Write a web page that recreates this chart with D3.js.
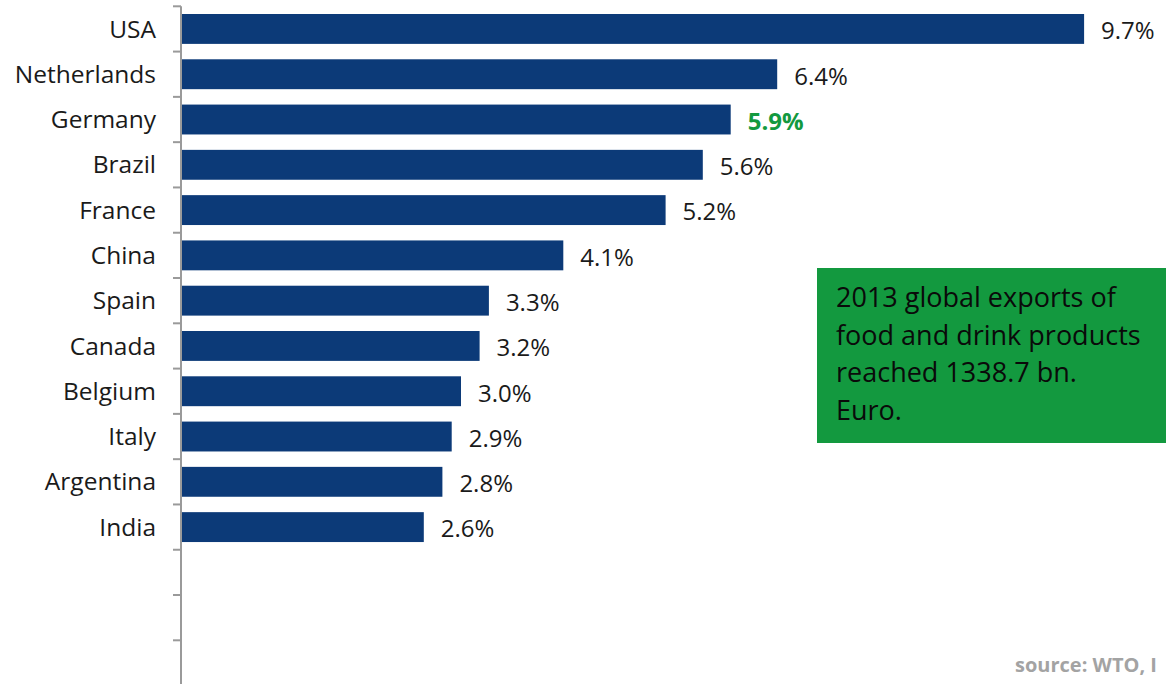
<!DOCTYPE html>
<html>
<head>
<meta charset="utf-8">
<script src="https://cdn.jsdelivr.net/npm/d3@7/dist/d3.min.js"></script>
<style>
  html, body { margin: 0; padding: 0; background: #fff; overflow: hidden; }
  svg { display: block; }
</style>
</head>
<body>
<svg id="chart" width="1166" height="684"></svg>
<script>
// Share of global food & drink exports, 2013 (%)
const countries = ["USA", "Netherlands", "Germany", "Brazil", "France", "China",
  "Spain", "Canada", "Belgium", "Italy", "Argentina", "India"];
const shares = [9.7, 6.4, 5.9, 5.6, 5.2, 4.1, 3.3, 3.2, 3.0, 2.9, 2.8, 2.6];
const highlight = ["Germany"];
// empty rows kept at the bottom of the category axis
const emptySlots = ["", " ", "  "];
const noteLines = ["2013 global exports of", "food and drink products",
  "reached 1338.7 bn.", "Euro."];
const sourceText = "source: WTO, I";

const data = countries.map((c, i) => ({ country: c, value: shares[i] }));

const svg = d3.select("#chart");
const barColor = "#0c3a78";
const green = "#13993f";
const labelFont = "'Open Sans', sans-serif";

const axisX = 181;
const y = d3.scaleBand()
  .domain(countries.concat(emptySlots))
  .range([6.3, 685.6])
  .paddingInner(0.34)
  .paddingOuter(0.17);

const x = d3.scaleLinear().domain([0, 10]).range([axisX + 1, axisX + 931]);

// bars
svg.append("g").selectAll("rect")
  .data(data)
  .join("rect")
  .attr("x", x(0))
  .attr("y", d => y(d.country))
  .attr("width", d => x(d.value) - x(0))
  .attr("height", y.bandwidth())
  .attr("fill", barColor);

// category axis: vertical line with ticks at row boundaries
const step = y.step();
const boundaries = y.domain().map(d => y(d) - step * y.paddingInner() / 2);
const axisG = svg.append("g").attr("stroke", "#9a9a9a").attr("stroke-width", 2);
axisG.append("line")
  .attr("x1", axisX).attr("x2", axisX)
  .attr("y1", boundaries[0]).attr("y2", 684);
axisG.selectAll("line.tick")
  .data(boundaries)
  .join("line")
  .attr("class", "tick")
  .attr("x1", axisX - 8).attr("x2", axisX)
  .attr("y1", d => d).attr("y2", d => d);

// category labels
svg.append("g").selectAll("text")
  .data(data)
  .join("text")
  .attr("x", 156)
  .attr("y", d => y(d.country) + y.bandwidth() / 2)
  .attr("dy", "0.35em")
  .attr("text-anchor", "end")
  .attr("font-family", labelFont)
  .attr("font-size", 24.5)
  .attr("fill", "#1a1a1a")
  .text(d => d.country);

// value labels
svg.append("g").selectAll("text")
  .data(data)
  .join("text")
  .attr("x", d => x(d.value) + 17)
  .attr("y", d => y(d.country) + y.bandwidth() / 2 + 2)
  .attr("dy", "0.35em")
  .attr("font-family", labelFont)
  .attr("font-size", 24)
  .attr("font-weight", d => highlight.includes(d.country) ? 700 : 400)
  .attr("fill", d => highlight.includes(d.country) ? green : "#1a1a1a")
  .text(d => d.value.toFixed(1) + "%");

// note box
const note = svg.append("g");
note.append("rect")
  .attr("x", 817).attr("y", 268)
  .attr("width", 349).attr("height", 175)
  .attr("fill", green);
note.selectAll("text")
  .data(noteLines)
  .join("text")
  .attr("x", 836)
  .attr("y", (d, i) => 298 + i * 37.5)
  .attr("dy", "0.35em")
  .attr("font-family", labelFont)
  .attr("font-size", 27)
  .attr("fill", "#0a0a0a")
  .text(d => d);

// source
svg.append("text")
  .attr("x", 1015).attr("y", 672)
  .attr("font-family", labelFont)
  .attr("font-size", 20)
  .attr("font-weight", 700)
  .attr("fill", "#a3a3a3")
  .text(sourceText);
</script>
</body>
</html>
